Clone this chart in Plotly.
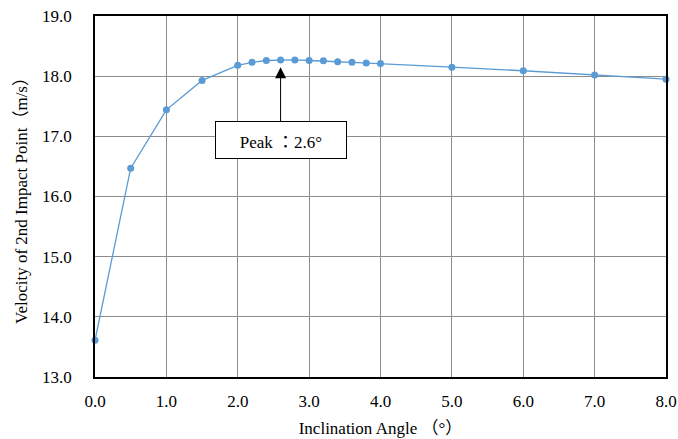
import plotly.graph_objects as go

angles = [0.0, 0.5, 1.0, 1.5, 2.0, 2.2, 2.4, 2.6, 2.8, 3.0, 3.2, 3.4, 3.6, 3.8, 4.0, 5.0, 6.0, 7.0, 8.0]
velocity = [13.61, 16.47, 17.44, 17.93, 18.18, 18.23, 18.26, 18.27, 18.27, 18.26, 18.255, 18.24, 18.23, 18.22, 18.21, 18.15, 18.09, 18.02, 17.95]
x_ticks = [0, 1, 2, 3, 4, 5, 6, 7, 8]
y_ticks = [13, 14, 15, 16, 17, 18, 19]
peak_angle = 2.6
peak_label = "Peak <span style='font-family:Noto Sans CJK JP'>：</span>2.6°"
x_title = "Inclination Angle <span style='font-family:Noto Sans CJK JP'>（</span>°<span style='font-family:Noto Sans CJK JP'>）</span>"
y_title = "Velocity of 2nd Impact Point<span style='font-family:Noto Sans CJK JP'>（</span>m/s<span style='font-family:Noto Sans CJK JP'>）</span>"

FONT = "Liberation Serif"

fig = go.Figure()
fig.add_trace(go.Scatter(
    x=angles, y=velocity, mode="lines+markers",
    line=dict(color="#5B9BD5", width=1.3),
    marker=dict(color="#5B9BD5", size=7),
    showlegend=False,
    cliponaxis=False,
))

fig.add_annotation(
    x=peak_angle, y=18.15, xref="x", yref="y",
    text=peak_label, showarrow=True,
    ax=0, ay=73, axref="pixel", ayref="pixel",
    arrowhead=2, arrowsize=2.2, arrowwidth=1, arrowcolor="black",
    font=dict(family=FONT, size=17, color="black"),
    bgcolor="white", bordercolor="black", borderwidth=1, borderpad=4,
    width=122, height=28, xshift=0,
)

fig.update_layout(
    width=678, height=439,
    margin=dict(l=95, r=12, t=16, b=62),
    paper_bgcolor="white", plot_bgcolor="white",
    font=dict(family=FONT, size=16, color="black"),
)
fig.update_xaxes(
    range=[0, 8], tickvals=x_ticks, ticktext=[f"{v:.1f}" for v in x_ticks],
    showgrid=True, gridcolor="#8c8c8c", gridwidth=1,
    showline=True, linecolor="black", linewidth=1.5, mirror=True,
    ticks="", ticklabelstandoff=8, zeroline=False, automargin=False,
    tickfont=dict(family=FONT, size=17),
    title=dict(text=x_title, font=dict(family=FONT, size=17), standoff=12),
)
fig.update_yaxes(
    range=[13, 19], tickvals=y_ticks, ticktext=[f"{v:.1f}" for v in y_ticks],
    showgrid=True, gridcolor="#8c8c8c", gridwidth=1,
    showline=True, linecolor="black", linewidth=1.5, mirror=True,
    ticks="", ticklabelstandoff=18, zeroline=False, automargin=False,
    tickfont=dict(family=FONT, size=17),
    title=dict(text=y_title, font=dict(family=FONT, size=17), standoff=10),
)

fig.write_html("out.html")
